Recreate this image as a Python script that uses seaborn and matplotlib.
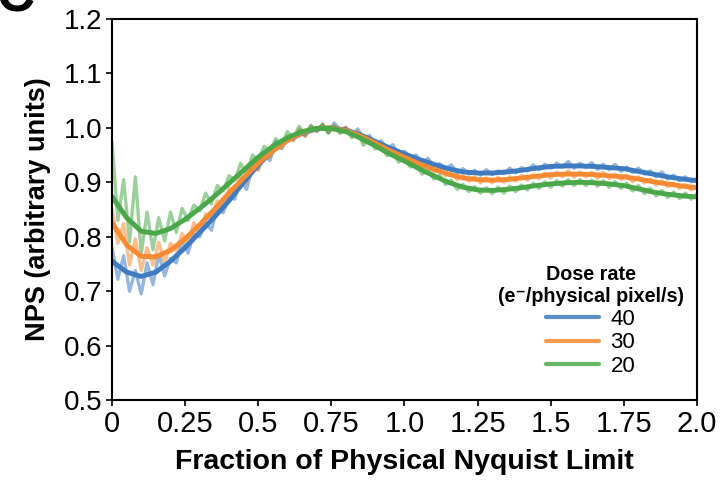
import numpy as np
import pandas as pd
import matplotlib
matplotlib.use('Agg')
import matplotlib.pyplot as plt
from matplotlib.font_manager import FontProperties
import seaborn as sns

# ====== data ======
doses = ['40', '30', '20']
colors = ['#3e7bc1', '#f68b33', '#4aa84a']

# smooth fits, x step 0.05
x_fit = np.round(np.arange(0, 2.0001, 0.05), 2)
fit_40 = [0.755, 0.735, 0.727, 0.735, 0.755, 0.780, 0.808, 0.836, 0.866, 0.900,
          0.932, 0.958, 0.977, 0.990, 0.998, 1.000, 0.996, 0.987, 0.975, 0.963,
          0.952, 0.942, 0.933, 0.925, 0.919, 0.917, 0.917, 0.919, 0.922, 0.926,
          0.929, 0.930, 0.930, 0.929, 0.927, 0.925, 0.920, 0.915, 0.910, 0.906,
          0.903]
fit_30 = [0.826, 0.785, 0.764, 0.763, 0.775, 0.796, 0.822, 0.850, 0.880, 0.908,
          0.935, 0.958, 0.977, 0.991, 0.999, 1.000, 0.995, 0.985, 0.972, 0.958,
          0.946, 0.934, 0.924, 0.915, 0.908, 0.905, 0.904, 0.905, 0.908, 0.911,
          0.914, 0.915, 0.915, 0.914, 0.912, 0.910, 0.906, 0.901, 0.897, 0.893,
          0.890]
fit_20 = [0.874, 0.835, 0.810, 0.806, 0.815, 0.832, 0.852, 0.874, 0.898, 0.922,
          0.946, 0.966, 0.982, 0.993, 0.999, 0.999, 0.993, 0.981, 0.967, 0.952,
          0.939, 0.925, 0.912, 0.900, 0.891, 0.886, 0.885, 0.887, 0.890, 0.894,
          0.897, 0.899, 0.900, 0.899, 0.897, 0.894, 0.888, 0.882, 0.878, 0.875,
          0.873]

# raw (noisy) NPS, x step 0.02
x_raw = np.round(np.arange(0, 2.0001, 0.02), 2)
raw_40 = [0.780, 0.722, 0.765, 0.700, 0.738, 0.695, 0.752, 0.712, 0.768, 0.728,
          0.760, 0.752, 0.792, 0.770, 0.805, 0.800, 0.826, 0.812, 0.853, 0.844,
          0.874, 0.869, 0.905, 0.887, 0.928, 0.924, 0.950, 0.940, 0.975, 0.962,
          0.983, 0.978, 0.995, 0.985, 1.002, 0.995, 1.006, 0.991, 1.009, 0.996,
          1.001, 0.986, 0.998, 0.981, 0.986, 0.972, 0.976, 0.962, 0.969, 0.951,
          0.957, 0.946, 0.950, 0.936, 0.944, 0.930, 0.934, 0.925, 0.932, 0.917,
          0.925, 0.915, 0.922, 0.913, 0.923, 0.914, 0.921, 0.916, 0.926, 0.917,
          0.927, 0.921, 0.932, 0.923, 0.933, 0.926, 0.935, 0.928, 0.938, 0.926,
          0.935, 0.927, 0.936, 0.924, 0.933, 0.923, 0.933, 0.920, 0.928, 0.918,
          0.926, 0.915, 0.921, 0.910, 0.919, 0.906, 0.913, 0.903, 0.910, 0.901,
          0.907]
raw_30 = [0.850, 0.788, 0.824, 0.748, 0.796, 0.738, 0.780, 0.748, 0.790, 0.750,
          0.788, 0.774, 0.806, 0.786, 0.826, 0.806, 0.842, 0.835, 0.866, 0.852,
          0.890, 0.882, 0.912, 0.898, 0.936, 0.922, 0.953, 0.945, 0.970, 0.962,
          0.984, 0.976, 0.998, 0.984, 1.003, 0.993, 1.006, 0.992, 1.004, 0.991,
          1.001, 0.985, 0.994, 0.974, 0.983, 0.968, 0.972, 0.955, 0.963, 0.944,
          0.950, 0.936, 0.942, 0.925, 0.933, 0.919, 0.925, 0.912, 0.918, 0.905,
          0.912, 0.902, 0.910, 0.899, 0.908, 0.899, 0.909, 0.900, 0.910, 0.902,
          0.913, 0.904, 0.914, 0.907, 0.917, 0.908, 0.919, 0.910, 0.921, 0.909,
          0.919, 0.910, 0.918, 0.907, 0.918, 0.907, 0.915, 0.905, 0.913, 0.901,
          0.910, 0.899, 0.906, 0.895, 0.903, 0.892, 0.899, 0.889, 0.896, 0.886,
          0.892]
raw_20 = [0.975, 0.830, 0.905, 0.790, 0.910, 0.768, 0.845, 0.776, 0.835, 0.792,
          0.845, 0.808, 0.852, 0.830, 0.858, 0.848, 0.880, 0.860, 0.894, 0.884,
          0.912, 0.904, 0.935, 0.915, 0.950, 0.941, 0.966, 0.958, 0.980, 0.970,
          0.993, 0.981, 1.003, 0.987, 1.005, 0.994, 1.007, 0.990, 1.004, 0.990,
          0.998, 0.982, 0.991, 0.968, 0.979, 0.961, 0.967, 0.949, 0.955, 0.937,
          0.945, 0.928, 0.934, 0.915, 0.922, 0.906, 0.913, 0.896, 0.904, 0.887,
          0.896, 0.883, 0.892, 0.880, 0.890, 0.879, 0.891, 0.880, 0.893, 0.883,
          0.895, 0.886, 0.898, 0.889, 0.901, 0.891, 0.903, 0.893, 0.905, 0.894,
          0.905, 0.894, 0.904, 0.893, 0.903, 0.891, 0.901, 0.889, 0.898, 0.884,
          0.894, 0.879, 0.889, 0.875, 0.885, 0.872, 0.882, 0.870, 0.880, 0.869,
          0.879]

raw = pd.concat([
    pd.DataFrame({'x': x_raw, 'nps': v, 'dose': d})
    for v, d in zip([raw_40, raw_30, raw_20], doses)
])
fit = pd.concat([
    pd.DataFrame({'x': x_fit, 'nps': v, 'dose': d})
    for v, d in zip([fit_40, fit_30, fit_20], doses)
])

# ====== style ======
sns.set_style('ticks')
plt.rcParams['font.family'] = ['Liberation Sans', 'DejaVu Sans']
plt.rcParams['axes.linewidth'] = 1.5
plt.rcParams['text.color'] = 'black'
plt.rcParams['axes.labelcolor'] = 'black'
plt.rcParams['xtick.color'] = 'black'
plt.rcParams['ytick.color'] = 'black'

fig = plt.figure(figsize=(7.21, 4.83), dpi=100)
ax = fig.add_axes([0.1553, 0.1718, 0.8114, 0.7889])

pal = dict(zip(doses, colors))
sns.lineplot(data=raw, x='x', y='nps', hue='dose', hue_order=doses, palette=pal,
             estimator=None, lw=2.4, alpha=0.55, legend=False, ax=ax)
sns.lineplot(data=fit, x='x', y='nps', hue='dose', hue_order=doses, palette=pal,
             estimator=None, lw=3.5, ax=ax)

ax.set_xlim(0, 2.0)
ax.set_ylim(0.5, 1.2)
ax.set_xticks([0, 0.25, 0.5, 0.75, 1.0, 1.25, 1.5, 1.75, 2.0])
ax.set_xticklabels(['0', '0.25', '0.5', '0.75', '1.0', '1.25', '1.5', '1.75', '2.0'],
                   fontsize=21)
ax.set_yticks(np.round(np.arange(0.5, 1.21, 0.1), 1))
ax.set_yticklabels([f'{v:.1f}' for v in np.arange(0.5, 1.21, 0.1)], fontsize=20)
ax.tick_params(direction='out', length=4, width=1.2, color='black', pad=3)
for s in ax.spines.values():
    s.set_visible(True)
    s.set_color('black')

ax.set_xlabel('Fraction of Physical Nyquist Limit', fontsize=20.5, fontweight='bold',
              labelpad=8)
ax.set_ylabel('NPS (arbitrary units)', fontsize=19.5, fontweight='bold', labelpad=9)

handles, labels = ax.get_legend_handles_labels()
leg = ax.legend(handles, labels, title='Dose rate\n(e\u207b/physical pixel/s)',
                loc='lower right', bbox_to_anchor=(1.0, 0.025), frameon=False,
                fontsize=16, handlelength=2.4, handletextpad=0.5,
                labelspacing=0.12, borderaxespad=0.2,
                title_fontproperties=FontProperties(family=['Liberation Sans', 'DejaVu Sans'],
                                                    weight='bold', size=14.2))
leg.get_title().set_multialignment('center')
for h in leg.get_lines():
    h.set_linewidth(3)
    h.set_alpha(0.85)

fig.text(-0.004, 0.977, 'C', fontsize=38, fontweight='bold', va='baseline', ha='left')

fig.savefig('out.png', dpi=100)
